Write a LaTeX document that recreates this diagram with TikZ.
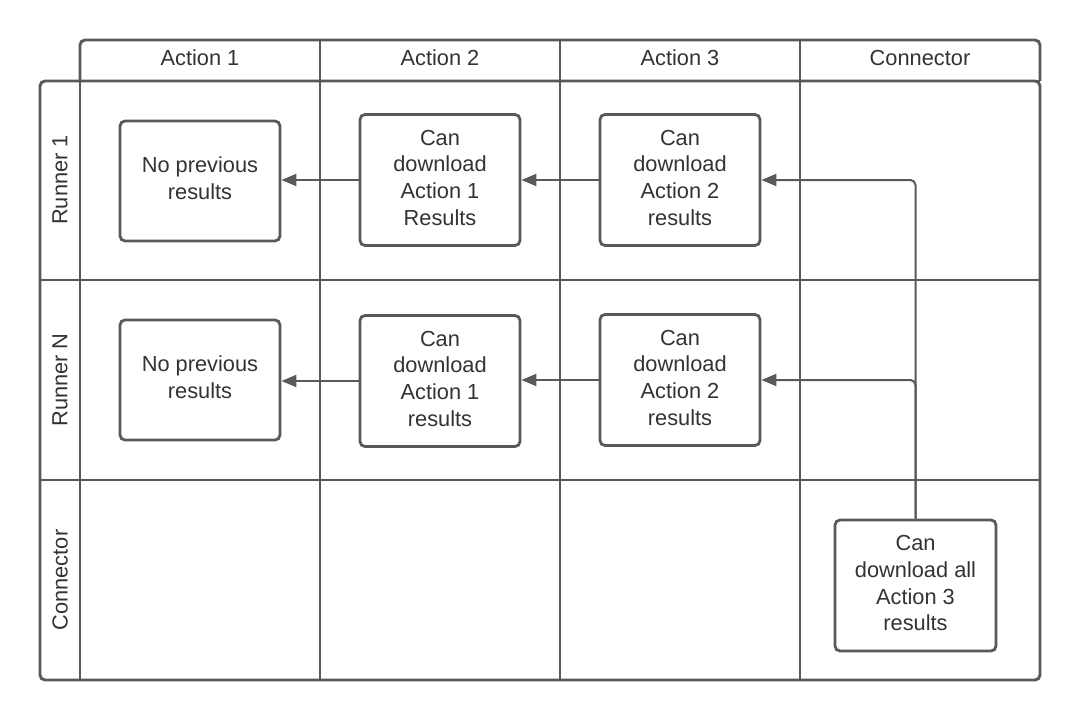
\documentclass[tikz,border=0pt]{standalone}
\usepackage{fontspec}
\setmainfont{Liberation Sans}
\usetikzlibrary{arrows.meta}
\definecolor{lane}{HTML}{595959}
\definecolor{txt}{HTML}{333333}
\newcommand{\bxtext}[1]{\raisebox{2.5pt}{\begin{tabular}{@{}c@{}}#1\end{tabular}}}
\tikzset{
  lanefr/.style={draw=lane, line width=2.9pt},
  procbox/.style={draw=lane, line width=2.8pt, rounded corners=5pt, fill=white,
    text=txt, inner sep=0pt,
    font=\fontsize{21.8}{26.7}\selectfont},
  hdr/.style={text=txt, inner sep=0pt, font=\fontsize{21.8}{26.7}\selectfont},
  flow/.style={draw=lane, line width=2pt, rounded corners=5pt,
    -{Triangle[length=15pt,width=12pt]}},
}
\begin{document}
\begin{tikzpicture}[x=1pt,y=-1pt]
\useasboundingbox (0,0) rectangle (1080,720);
% header frame
\draw[lanefr, rounded corners=5pt] (80,81) -- (80,40) -- (1040,40) -- (1040,81);
\draw[lanefr] (80,81) -- (1040,81);
% body frame
\draw[lanefr, rounded corners=5pt] (40,81) rectangle (1040,680);
% row header divider
\draw[lanefr] (80,81) -- (80,680);
% horizontal lane lines
\draw[lanefr] (40,280) -- (1040,280);
\draw[lanefr] (40,480) -- (1040,480);
% vertical lane lines
\foreach \xx in {320,560,800} \draw[lanefr] (\xx,40) -- (\xx,680);
% header labels
\node[hdr] (h1) at (200,58) {Action 1};
\node[hdr] (h2) at (440,58) {Action 2};
\node[hdr] (h3) at (680,58) {Action 3};
\node[hdr] (h4) at (920,58) {Connector};
\node[hdr, rotate=90] (r1) at (60,180) {Runner 1};
\node[hdr, rotate=90] (r2) at (60,380) {Runner N};
\node[hdr, rotate=90] (r3) at (60,580) {Connector};
% boxes
\node[procbox, minimum width=160pt, minimum height=120pt] (a1r1) at (200,181) {\bxtext{No previous\\results}};
\node[procbox, minimum width=160pt, minimum height=131pt] (a2r1) at (440,180) {\bxtext{Can\\download\\Action 1\\Results}};
\node[procbox, minimum width=160pt, minimum height=131pt] (a3r1) at (680,180) {\bxtext{Can\\download\\Action 2\\results}};
\node[procbox, minimum width=160pt, minimum height=120pt] (a1r2) at (200,380) {\bxtext{No previous\\results}};
\node[procbox, minimum width=160pt, minimum height=131pt] (a2r2) at (440,381) {\bxtext{Can\\download\\Action 1\\results}};
\node[procbox, minimum width=160pt, minimum height=131pt] (a3r2) at (680,380) {\bxtext{Can\\download\\Action 2\\results}};
\node[procbox, minimum width=161pt, minimum height=131pt] (cb) at (915.5,585.5) {\bxtext{Can\\download all\\Action 3\\results}};
% flows
\draw[flow] (a2r1.west) -- (a1r1.east |- a2r1.west);
\draw[flow] (a3r1.west) -- (a2r1.east |- a3r1.west);
\draw[flow] (a2r2.west) -- (a1r2.east |- a2r2.west);
\draw[flow] (a3r2.west) -- (a2r2.east |- a3r2.west);
\draw[flow] (cb.north) |- (a3r1.east);
\draw[flow] (cb.north) |- (a3r2.east);
\end{tikzpicture}
\end{document}
